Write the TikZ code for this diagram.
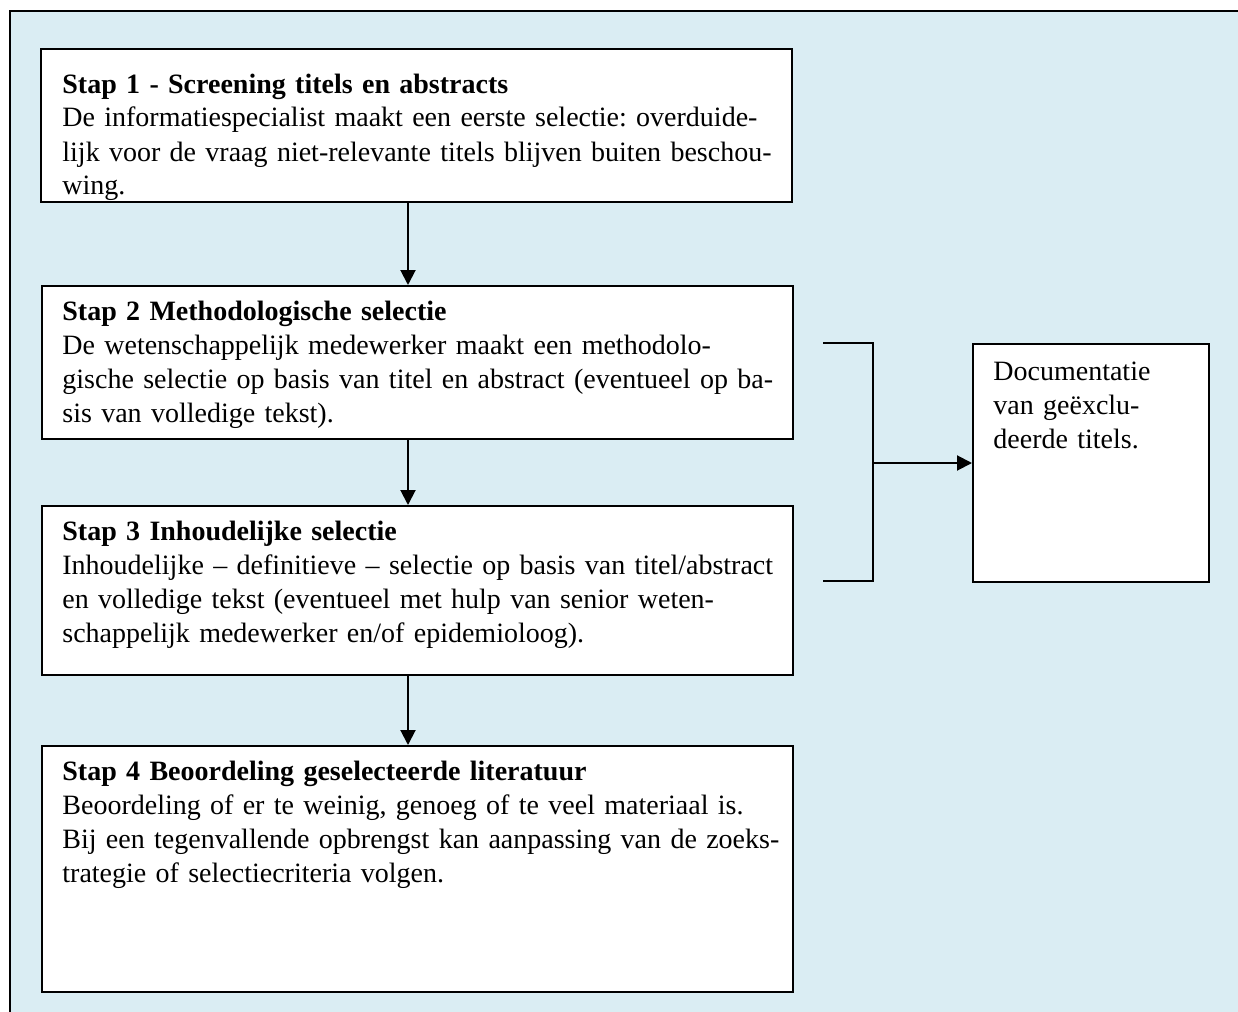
\documentclass[tikz,border=0pt]{standalone}
\usepackage{fontspec}
\setmainfont{Liberation Serif}
\usetikzlibrary{arrows.meta}
\definecolor{achtergrond}{HTML}{DAEDF3}
\frenchspacing

\begin{document}
\begin{tikzpicture}[x=0.5pt, y=-0.5pt,
  font=\fontsize{14pt}{17pt}\selectfont,
  kader/.style={draw, line width=1pt, fill=white, anchor=north west,
    inner sep=0pt, minimum width=375.5pt},
  tekst/.style={anchor=base west, inner sep=0pt, text width=400pt, align=left},
  lijn/.style={line width=1pt},
  pijl/.style={line width=1pt, -{Triangle[length=7.5pt, width=7.5pt]}}]
  \useasboundingbox (0,0) rectangle (1238,1012);
  % 背景与边框
  \fill[achtergrond] (10,11) rectangle (1238,1012);
  \draw[line width=1.2pt] (10,1012) -- (10,11) -- (1238,11);
  % 四个步骤
  \node[kader, minimum height=76.5pt] (s1) at (40,48) {};
  \begin{scope}
    \clip ([yshift=1pt]s1.south west) rectangle (s1.north east);
    \node[tekst] (t1) at (62,93) {\textbf{Stap 1 - Screening titels en abstracts}\\
      De informatiespecialist maakt een eerste selectie: overduide-\\
      lijk voor de vraag niet-relevante titels blijven buiten beschou-\\
      wing.};
  \end{scope}
  \node[kader, minimum height=76.5pt] (s2) at (41,285) {};
  \node[tekst] (t2) at (62,320) {\textbf{Stap 2 Methodologische selectie}\\
    De wetenschappelijk medewerker maakt een methodolo-\\
    gische selectie op basis van titel en abstract (eventueel op ba-\\
    sis van volledige tekst).};
  \node[kader, minimum height=84.5pt] (s3) at (41,505) {};
  \node[tekst] (t3) at (62,540) {\textbf{Stap 3 Inhoudelijke selectie}\\
    Inhoudelijke -- definitieve -- selectie op basis van titel/abstract\\
    en volledige tekst (eventueel met hulp van senior weten-\\
    schappelijk medewerker en/of epidemioloog).};
  \node[kader, minimum height=123pt] (s4) at (41,745) {};
  \node[tekst] (t4) at (62,780) {\textbf{Stap 4 Beoordeling geselecteerde literatuur}\\
    Beoordeling of er te weinig, genoeg of te veel materiaal is.\\
    Bij een tegenvallende opbrengst kan aanpassing van de zoeks-\\
    trategie of selectiecriteria volgen.};
  % documentatie
  \node[kader, minimum width=118pt, minimum height=119pt] (doc) at (972,343) {};
  \node[tekst, text width=110pt] (td) at (993,380) {Documentatie\\
    van geëxclu-\\
    deerde titels.};
  % 箭头
  \coordinate (as) at (408,0);
  \draw[pijl] (s1.south -| as) -- (s2.north -| as);
  \draw[pijl] (s2.south -| as) -- (s3.north -| as);
  \draw[pijl] (s3.south -| as) -- (s4.north -| as);
  % 括号
  \coordinate (kb) at (823,343);
  \coordinate (km) at (873,463);
  \coordinate (ko) at (823,581);
  \draw[lijn] (kb) -| (km) |- (ko);
  \draw[pijl] (km) -- (km -| doc.west);
\end{tikzpicture}
\end{document}
